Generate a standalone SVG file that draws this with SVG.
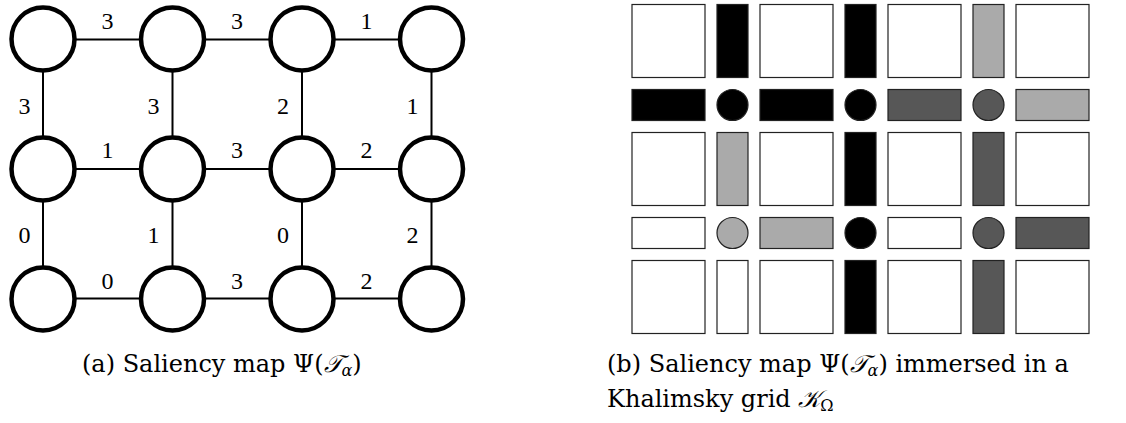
<svg xmlns="http://www.w3.org/2000/svg" width="1126" height="423" viewBox="0 0 1126 423">
<style>
.node{fill:#fff;stroke:#000;stroke-width:4.5}
.edge{stroke:#000;stroke-width:2}
.lbl{font-family:"Liberation Serif","DejaVu Serif",serif;font-size:24px;fill:#000;text-anchor:middle}
.cap{font-family:"DejaVu Serif","Liberation Serif",serif;font-size:24px;fill:#000}
.cell{stroke:#222;stroke-width:1.2}
.w{fill:#fff}
.k{fill:#000}
.d{fill:#575757}
.l{fill:#aaaaaa}
</style>
<rect width="1126" height="423" fill="#fff"/>
<!-- (a) graph -->
<g id="connectors">
<line class="edge" x1="43" y1="39.5" x2="431.5" y2="39.5"/>
<line class="edge" x1="43" y1="169" x2="431.5" y2="169"/>
<line class="edge" x1="43" y1="298.5" x2="431.5" y2="298.5"/>
<line class="edge" x1="43" y1="39.5" x2="43" y2="298.5"/>
<line class="edge" x1="172.5" y1="39.5" x2="172.5" y2="298.5"/>
<line class="edge" x1="302" y1="39.5" x2="302" y2="298.5"/>
<line class="edge" x1="431.5" y1="39.5" x2="431.5" y2="298.5"/>
</g>
<g id="edge-labels">
<text class="lbl" x="107.5" y="29">3</text>
<text class="lbl" x="237" y="29">3</text>
<text class="lbl" x="366.5" y="29">1</text>
<text class="lbl" x="107.5" y="158">1</text>
<text class="lbl" x="237" y="158">3</text>
<text class="lbl" x="366.5" y="158">2</text>
<text class="lbl" x="107.5" y="289">0</text>
<text class="lbl" x="237" y="289">3</text>
<text class="lbl" x="366.5" y="289">2</text>
<text class="lbl" x="24.5" y="114">3</text>
<text class="lbl" x="153.5" y="114">3</text>
<text class="lbl" x="283" y="114">2</text>
<text class="lbl" x="412.5" y="114">1</text>
<text class="lbl" x="24.5" y="243">0</text>
<text class="lbl" x="153.5" y="243">1</text>
<text class="lbl" x="283" y="243">0</text>
<text class="lbl" x="412.5" y="243">2</text>
</g>
<g id="n11"><circle class="node" cx="43" cy="39" r="31.5"/></g>
<g id="n12"><circle class="node" cx="172.5" cy="39" r="31.5"/></g>
<g id="n13"><circle class="node" cx="302" cy="39" r="31.5"/></g>
<g id="n14"><circle class="node" cx="431.5" cy="39" r="31.5"/></g>
<g id="n21"><circle class="node" cx="43" cy="169" r="31.5"/></g>
<g id="n22"><circle class="node" cx="172.5" cy="169" r="31.5"/></g>
<g id="n23"><circle class="node" cx="302" cy="169" r="31.5"/></g>
<g id="n24"><circle class="node" cx="431.5" cy="169" r="31.5"/></g>
<g id="n31"><circle class="node" cx="43" cy="299" r="31.5"/></g>
<g id="n32"><circle class="node" cx="172.5" cy="299" r="31.5"/></g>
<g id="n33"><circle class="node" cx="302" cy="299" r="31.5"/></g>
<g id="n34"><circle class="node" cx="431.5" cy="299" r="31.5"/></g>
<text class="cap" x="82" y="372">(a) Saliency map Ψ(<tspan font-style="italic">𝒯</tspan><tspan font-size="16" font-style="italic" dy="4">α</tspan><tspan dy="-4">)</tspan></text>
<!-- (b) Khalimsky grid -->
<g id="khalimsky">
<!-- row 1 -->
<rect class="cell w" x="632" y="4.5" width="73" height="73"/>
<rect class="cell k" x="717" y="4.5" width="31" height="73"/>
<rect class="cell w" x="760" y="4.5" width="73" height="73"/>
<rect class="cell k" x="845" y="4.5" width="31" height="73"/>
<rect class="cell w" x="888" y="4.5" width="73" height="73"/>
<rect class="cell l" x="973" y="4.5" width="31" height="73"/>
<rect class="cell w" x="1016" y="4.5" width="73" height="73"/>
<!-- row 2 -->
<rect class="cell k" x="632" y="89.5" width="73" height="31"/>
<circle class="cell k" cx="732.5" cy="105" r="15.5"/>
<rect class="cell k" x="760" y="89.5" width="73" height="31"/>
<circle class="cell k" cx="860.5" cy="105" r="15.5"/>
<rect class="cell d" x="888" y="89.5" width="73" height="31"/>
<circle class="cell d" cx="988.5" cy="105" r="15.5"/>
<rect class="cell l" x="1016" y="89.5" width="73" height="31"/>
<!-- row 3 -->
<rect class="cell w" x="632" y="132.5" width="73" height="73"/>
<rect class="cell l" x="717" y="132.5" width="31" height="73"/>
<rect class="cell w" x="760" y="132.5" width="73" height="73"/>
<rect class="cell k" x="845" y="132.5" width="31" height="73"/>
<rect class="cell w" x="888" y="132.5" width="73" height="73"/>
<rect class="cell d" x="973" y="132.5" width="31" height="73"/>
<rect class="cell w" x="1016" y="132.5" width="73" height="73"/>
<!-- row 4 -->
<rect class="cell w" x="632" y="217.5" width="73" height="31"/>
<circle class="cell l" cx="732.5" cy="233" r="15.5"/>
<rect class="cell l" x="760" y="217.5" width="73" height="31"/>
<circle class="cell k" cx="860.5" cy="233" r="15.5"/>
<rect class="cell w" x="888" y="217.5" width="73" height="31"/>
<circle class="cell d" cx="988.5" cy="233" r="15.5"/>
<rect class="cell d" x="1016" y="217.5" width="73" height="31"/>
<!-- row 5 -->
<rect class="cell w" x="632" y="260.5" width="73" height="73"/>
<rect class="cell w" x="717" y="260.5" width="31" height="73"/>
<rect class="cell w" x="760" y="260.5" width="73" height="73"/>
<rect class="cell k" x="845" y="260.5" width="31" height="73"/>
<rect class="cell w" x="888" y="260.5" width="73" height="73"/>
<rect class="cell d" x="973" y="260.5" width="31" height="73"/>
<rect class="cell w" x="1016" y="260.5" width="73" height="73"/>
</g>
<text class="cap" x="607" y="372">(b) Saliency map Ψ(<tspan font-style="italic">𝒯</tspan><tspan font-size="16" font-style="italic" dy="4">α</tspan><tspan dy="-4">) immersed in a</tspan></text>
<text class="cap" x="607" y="407">Khalimsky grid <tspan font-style="italic">𝒦</tspan><tspan font-size="16" dy="4">Ω</tspan></text>
</svg>
